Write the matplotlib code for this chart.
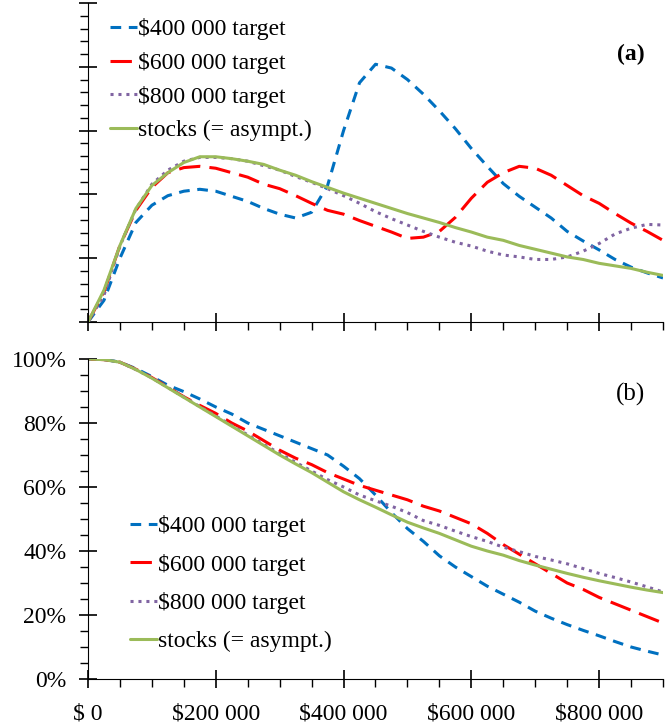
import matplotlib.pyplot as plt
from matplotlib.ticker import MultipleLocator, PercentFormatter, FuncFormatter

plt.rcParams['font.family'] = ['Liberation Serif', 'DejaVu Serif']

# wealth axis, in dollars (every $25 000)
wealth = [i * 25000 for i in range(37)]

# panel (a): unlabelled density-like curves
top_400 = [0, 0.34, 1.00, 1.56, 1.83, 1.98, 2.05, 2.08, 2.05, 1.97, 1.89, 1.78, 1.69,
           1.63, 1.72, 2.14, 3.00, 3.75, 4.04, 3.98, 3.80, 3.57, 3.31, 3.03, 2.72, 2.44,
           2.17, 1.97, 1.80, 1.63, 1.42, 1.27, 1.13, 0.98, 0.86, 0.77, 0.69]
top_600 = [0, 0.47, 1.20, 1.75, 2.11, 2.34, 2.42, 2.44, 2.41, 2.34, 2.27, 2.16, 2.09,
           1.98, 1.86, 1.75, 1.69, 1.59, 1.50, 1.41, 1.31, 1.33, 1.42, 1.64, 1.94, 2.19,
           2.34, 2.44, 2.41, 2.30, 2.14, 1.98, 1.86, 1.70, 1.55, 1.42, 1.28]
top_800 = [0, 0.42, 1.19, 1.77, 2.16, 2.38, 2.52, 2.58, 2.58, 2.56, 2.52, 2.45, 2.38,
           2.28, 2.19, 2.09, 1.98, 1.86, 1.73, 1.62, 1.52, 1.42, 1.33, 1.25, 1.19, 1.11,
           1.05, 1.02, 0.98, 0.98, 1.02, 1.11, 1.23, 1.38, 1.47, 1.53, 1.52]
top_stocks = [0, 0.50, 1.20, 1.78, 2.14, 2.34, 2.50, 2.59, 2.59, 2.56, 2.52, 2.47, 2.38,
              2.30, 2.20, 2.11, 2.02, 1.94, 1.86, 1.78, 1.70, 1.63, 1.56, 1.48, 1.41, 1.33,
              1.28, 1.20, 1.14, 1.08, 1.02, 0.98, 0.92, 0.88, 0.84, 0.78, 0.73]

# panel (b): probability of exceeding wealth
bot_400 = [1.0, 0.999, 0.99, 0.97, 0.945, 0.918, 0.898, 0.875, 0.85, 0.828, 0.80, 0.78,
           0.76, 0.74, 0.72, 0.70, 0.665, 0.626, 0.575, 0.52, 0.47, 0.43, 0.385, 0.35,
           0.32, 0.29, 0.265, 0.24, 0.212, 0.19, 0.17, 0.152, 0.135, 0.117, 0.10, 0.087, 0.075]
bot_600 = [1.0, 0.998, 0.99, 0.968, 0.942, 0.912, 0.882, 0.855, 0.83, 0.80, 0.775, 0.745,
           0.715, 0.69, 0.67, 0.645, 0.625, 0.605, 0.59, 0.575, 0.56, 0.54, 0.525, 0.505,
           0.485, 0.455, 0.42, 0.39, 0.36, 0.33, 0.30, 0.28, 0.255, 0.235, 0.215, 0.195, 0.175]
bot_800 = [1.0, 0.998, 0.99, 0.967, 0.941, 0.911, 0.881, 0.851, 0.822, 0.792, 0.763, 0.733,
           0.705, 0.677, 0.65, 0.623, 0.60, 0.575, 0.557, 0.54, 0.52, 0.495, 0.48, 0.462,
           0.445, 0.43, 0.412, 0.398, 0.383, 0.372, 0.36, 0.345, 0.33, 0.317, 0.303, 0.288, 0.272]
bot_stocks = [1.0, 0.998, 0.99, 0.967, 0.94, 0.91, 0.88, 0.85, 0.82, 0.79, 0.76, 0.73,
              0.70, 0.672, 0.645, 0.615, 0.585, 0.56, 0.537, 0.513, 0.49, 0.472, 0.455, 0.435,
              0.415, 0.40, 0.387, 0.37, 0.356, 0.343, 0.33, 0.318, 0.307, 0.297, 0.287, 0.278, 0.27]

labels = ['$400 000 target', '$600 000 target', '$800 000 target', 'stocks (= asympt.)']
colors = ['#0070C0', '#FF0000', '#8064A2', '#9BBB59']
styles = [(0, (3.5, 2.5)), (0, (7, 3)), (0, (1, 1.6)), '-']

FS = 17
W, H = 672, 728
fig = plt.figure(figsize=(W / 100, H / 100), dpi=100)
ax1 = fig.add_axes([88 / W, 1 - 322 / H, (663 - 88) / W, (322 - 3) / H])
ax2 = fig.add_axes([88 / W, 1 - 679 / H, (663 - 88) / W, (679 - 359) / H])


def style_axes(ax):
    for s in ['top', 'right']:
        ax.spines[s].set_visible(False)
    ax.set_xlim(0, 900000)
    ax.xaxis.set_major_locator(MultipleLocator(200000))
    ax.xaxis.set_minor_locator(MultipleLocator(50000))
    ax.tick_params(which='major', direction='inout', length=13, width=1.2)
    ax.tick_params(which='minor', direction='out', length=6, width=1)


for ax, series in [(ax1, [top_400, top_600, top_800, top_stocks]),
                   (ax2, [bot_400, bot_600, bot_800, bot_stocks])]:
    for ys, lab, c, ls in zip(series, labels, colors, styles):
        ax.plot(wealth, ys, color=c, linestyle=ls, lw=2.2, label=lab,
                dash_capstyle='butt', solid_capstyle='round')
    style_axes(ax)

# panel (a)
ax1.set_ylim(0, 5)
ax1.yaxis.set_major_locator(MultipleLocator(1))
ax1.yaxis.set_minor_locator(MultipleLocator(0.2))
ax1.tick_params(labelbottom=False, labelleft=False)
ax1.text(0.944, 0.84, '(a)', transform=ax1.transAxes, fontsize=FS,
         fontweight='bold', ha='center', va='center')
ax1.legend(loc='upper left', bbox_to_anchor=(110 / W, 1 - 18 / H),
           bbox_transform=fig.transFigure, frameon=False, fontsize=FS,
           handlelength=1.15, handletextpad=0.02, labelspacing=0.5,
           borderpad=0, borderaxespad=0)

# panel (b)
ax2.set_ylim(0, 1)
ax2.yaxis.set_major_locator(MultipleLocator(0.2))
ax2.yaxis.set_minor_locator(MultipleLocator(0.05))
ax2.yaxis.set_major_formatter(PercentFormatter(1.0, decimals=0))
ax2.xaxis.set_major_formatter(FuncFormatter(
    lambda v, p: '$ 0' if v == 0 else '$' + format(int(v), ',').replace(',', ' ')))
ax2.tick_params(axis='y', which='major', pad=9, labelsize=FS)
ax2.tick_params(axis='x', which='major', pad=11, labelsize=FS)
ax2.text(0.944, 0.89, '(b)', transform=ax2.transAxes, fontsize=FS + 1,
         ha='center', va='center')
ax2.legend(loc='upper left', bbox_to_anchor=(130 / W, 1 - 515 / H),
           bbox_transform=fig.transFigure, frameon=False, fontsize=FS,
           handlelength=1.15, handletextpad=0.02, labelspacing=0.7,
           borderpad=0, borderaxespad=0)

fig.savefig('out.png', dpi=100)
